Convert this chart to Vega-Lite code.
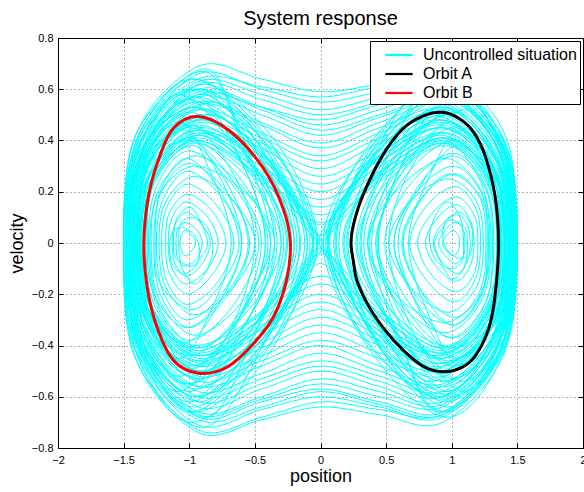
{
"$schema":"https://vega.github.io/schema/vega-lite/v6.json",
"width":525,"height":410,
"autosize":{"type":"none"},
"padding":{"left":58,"top":38,"right":1,"bottom":44},
"title":{"text":"System response","fontSize":20,"fontWeight":"normal","font":"Liberation Sans","color":"#000","offset":3},
"datasets":{
"u":[
{"g":1,"x":-1.5,"y":0},{"g":1,"x":-1.40,"y":0.40},{"g":1,"x":-0.98,"y":0.64},{"g":1,"x":-0.39,"y":0.40},{"g":1,"x":-0.08,"y":0},{"g":1,"x":-0.39,"y":-0.43},{"g":1,"x":-0.98,"y":-0.70},{"g":1,"x":-1.40,"y":-0.43},
{"g":2,"x":-1.48,"y":0},{"g":2,"x":-1.39,"y":0.37},{"g":2,"x":-0.99,"y":0.60},{"g":2,"x":-0.45,"y":0.37},{"g":2,"x":-0.16,"y":0},{"g":2,"x":-0.45,"y":-0.41},{"g":2,"x":-0.99,"y":-0.66},{"g":2,"x":-1.39,"y":-0.41},
{"g":3,"x":-1.47,"y":0},{"g":3,"x":-1.37,"y":0.35},{"g":3,"x":-0.94,"y":0.57},{"g":3,"x":-0.35,"y":0.35},{"g":3,"x":-0.03,"y":0},{"g":3,"x":-0.35,"y":-0.37},{"g":3,"x":-0.94,"y":-0.60},{"g":3,"x":-1.37,"y":-0.37},
{"g":4,"x":-1.45,"y":0},{"g":4,"x":-1.36,"y":0.35},{"g":4,"x":-1.0,"y":0.56},{"g":4,"x":-0.49,"y":0.35},{"g":4,"x":-0.22,"y":0},{"g":4,"x":-0.49,"y":-0.38},{"g":4,"x":-1.0,"y":-0.62},{"g":4,"x":-1.36,"y":-0.38},
{"g":5,"x":-1.44,"y":0},{"g":5,"x":-1.35,"y":0.33},{"g":5,"x":-0.95,"y":0.53},{"g":5,"x":-0.41,"y":0.33},{"g":5,"x":-0.12,"y":0},{"g":5,"x":-0.41,"y":-0.35},{"g":5,"x":-0.95,"y":-0.57},{"g":5,"x":-1.35,"y":-0.35},
{"g":6,"x":-1.42,"y":0},{"g":6,"x":-1.34,"y":0.32},{"g":6,"x":-1.0,"y":0.51},{"g":6,"x":-0.53,"y":0.32},{"g":6,"x":-0.28,"y":0},{"g":6,"x":-0.53,"y":-0.34},{"g":6,"x":-1.0,"y":-0.55},{"g":6,"x":-1.34,"y":-0.34},
{"g":7,"x":-1.41,"y":0},{"g":7,"x":-1.32,"y":0.30},{"g":7,"x":-0.91,"y":0.48},{"g":7,"x":-0.36,"y":0.30},{"g":7,"x":-0.06,"y":0},{"g":7,"x":-0.36,"y":-0.31},{"g":7,"x":-0.91,"y":-0.50},{"g":7,"x":-1.32,"y":-0.31},
{"g":8,"x":-1.39,"y":0},{"g":8,"x":-1.32,"y":0.29},{"g":8,"x":-1.0,"y":0.46},{"g":8,"x":-0.56,"y":0.29},{"g":8,"x":-0.33,"y":0},{"g":8,"x":-0.56,"y":-0.30},{"g":8,"x":-1.0,"y":-0.49},{"g":8,"x":-1.32,"y":-0.30},
{"g":9,"x":-1.37,"y":0},{"g":9,"x":-1.29,"y":0.27},{"g":9,"x":-0.94,"y":0.44},{"g":9,"x":-0.46,"y":0.27},{"g":9,"x":-0.20,"y":0},{"g":9,"x":-0.46,"y":-0.29},{"g":9,"x":-0.94,"y":-0.46},{"g":9,"x":-1.29,"y":-0.29},
{"g":10,"x":-1.35,"y":0},{"g":10,"x":-1.28,"y":0.25},{"g":10,"x":-1.0,"y":0.41},{"g":10,"x":-0.61,"y":0.25},{"g":10,"x":-0.40,"y":0},{"g":10,"x":-0.61,"y":-0.27},{"g":10,"x":-1.0,"y":-0.44},{"g":10,"x":-1.28,"y":-0.27},
{"g":11,"x":-1.33,"y":0},{"g":11,"x":-1.26,"y":0.24},{"g":11,"x":-0.95,"y":0.39},{"g":11,"x":-0.53,"y":0.24},{"g":11,"x":-0.30,"y":0},{"g":11,"x":-0.53,"y":-0.25},{"g":11,"x":-0.95,"y":-0.41},{"g":11,"x":-1.26,"y":-0.25},
{"g":12,"x":-1.31,"y":0},{"g":12,"x":-1.25,"y":0.22},{"g":12,"x":-1.0,"y":0.36},{"g":12,"x":-0.66,"y":0.22},{"g":12,"x":-0.47,"y":0},{"g":12,"x":-0.66,"y":-0.24},{"g":12,"x":-1.0,"y":-0.38},{"g":12,"x":-1.25,"y":-0.24},
{"g":13,"x":-1.29,"y":0},{"g":13,"x":-1.23,"y":0.21},{"g":13,"x":-0.95,"y":0.34},{"g":13,"x":-0.58,"y":0.21},{"g":13,"x":-0.38,"y":0},{"g":13,"x":-0.58,"y":-0.22},{"g":13,"x":-0.95,"y":-0.36},{"g":13,"x":-1.23,"y":-0.22},
{"g":14,"x":-1.27,"y":0},{"g":14,"x":-1.22,"y":0.19},{"g":14,"x":-1.0,"y":0.31},{"g":14,"x":-0.70,"y":0.19},{"g":14,"x":-0.54,"y":0},{"g":14,"x":-0.70,"y":-0.20},{"g":14,"x":-1.0,"y":-0.33},{"g":14,"x":-1.22,"y":-0.20},
{"g":15,"x":-1.25,"y":0},{"g":15,"x":-1.20,"y":0.17},{"g":15,"x":-1.01,"y":0.28},{"g":15,"x":-0.74,"y":0.17},{"g":15,"x":-0.60,"y":0},{"g":15,"x":-0.74,"y":-0.19},{"g":15,"x":-1.01,"y":-0.30},{"g":15,"x":-1.20,"y":-0.19},
{"g":16,"x":-1.23,"y":0},{"g":16,"x":-1.18,"y":0.16},{"g":16,"x":-0.96,"y":0.26},{"g":16,"x":-0.66,"y":0.16},{"g":16,"x":-0.50,"y":0},{"g":16,"x":-0.66,"y":-0.17},{"g":16,"x":-0.96,"y":-0.28},{"g":16,"x":-1.18,"y":-0.17},
{"g":17,"x":-1.21,"y":0},{"g":17,"x":-1.17,"y":0.14},{"g":17,"x":-1.01,"y":0.23},{"g":17,"x":-0.78,"y":0.14},{"g":17,"x":-0.66,"y":0},{"g":17,"x":-0.78,"y":-0.15},{"g":17,"x":-1.01,"y":-0.24},{"g":17,"x":-1.17,"y":-0.15},
{"g":18,"x":-1.18,"y":0},{"g":18,"x":-1.15,"y":0.12},{"g":18,"x":-1.01,"y":0.19},{"g":18,"x":-0.82,"y":0.12},{"g":18,"x":-0.72,"y":0},{"g":18,"x":-0.82,"y":-0.12},{"g":18,"x":-1.01,"y":-0.20},{"g":18,"x":-1.15,"y":-0.12},
{"g":19,"x":-1.16,"y":0},{"g":19,"x":-1.13,"y":0.10},{"g":19,"x":-1.02,"y":0.16},{"g":19,"x":-0.86,"y":0.10},{"g":19,"x":-0.78,"y":0},{"g":19,"x":-0.86,"y":-0.10},{"g":19,"x":-1.02,"y":-0.16},{"g":19,"x":-1.13,"y":-0.10},
{"g":20,"x":-1.13,"y":0},{"g":20,"x":-1.11,"y":0.07},{"g":20,"x":-1.02,"y":0.12},{"g":20,"x":-0.90,"y":0.07},{"g":20,"x":-0.84,"y":0},{"g":20,"x":-0.90,"y":-0.08},{"g":20,"x":-1.02,"y":-0.13},{"g":20,"x":-1.11,"y":-0.08},
{"g":21,"x":-1.10,"y":0},{"g":21,"x":-1.09,"y":0.05},{"g":21,"x":-1.03,"y":0.08},{"g":21,"x":-0.94,"y":0.05},{"g":21,"x":-0.90,"y":0},{"g":21,"x":-0.94,"y":-0.06},{"g":21,"x":-1.03,"y":-0.09},{"g":21,"x":-1.09,"y":-0.06},
{"g":22,"x":-1.07,"y":0},{"g":22,"x":-1.06,"y":0.03},{"g":22,"x":-1.03,"y":0.05},{"g":22,"x":-0.98,"y":0.03},{"g":22,"x":-0.95,"y":0},{"g":22,"x":-0.98,"y":-0.03},{"g":22,"x":-1.03,"y":-0.05},{"g":22,"x":-1.06,"y":-0.03},
{"g":23,"x":-1.46,"y":0},{"g":23,"x":-1.39,"y":0.36},{"g":23,"x":-1.08,"y":0.58},{"g":23,"x":-0.65,"y":0.36},{"g":23,"x":-0.42,"y":0},{"g":23,"x":-0.65,"y":-0.32},{"g":23,"x":-1.08,"y":-0.52},{"g":23,"x":-1.39,"y":-0.32},
{"g":24,"x":-1.43,"y":0},{"g":24,"x":-1.37,"y":0.31},{"g":24,"x":-1.09,"y":0.50},{"g":24,"x":-0.71,"y":0.31},{"g":24,"x":-0.50,"y":0},{"g":24,"x":-0.71,"y":-0.36},{"g":24,"x":-1.09,"y":-0.58},{"g":24,"x":-1.37,"y":-0.36},
{"g":101,"x":-1.49,"y":0},{"g":101,"x":-1.41,"y":0.42},{"g":101,"x":-0.90,"y":0.67},{"g":101,"x":-0.60,"y":0.42},{"g":101,"x":-0.35,"y":0},{"g":101,"x":-0.60,"y":-0.34},{"g":101,"x":-1.02,"y":-0.55},{"g":101,"x":-1.41,"y":-0.34},
{"g":102,"x":-1.46,"y":0},{"g":102,"x":-1.36,"y":0.31},{"g":102,"x":-0.85,"y":0.50},{"g":102,"x":-0.40,"y":0.31},{"g":102,"x":-0.10,"y":0},{"g":102,"x":-0.40,"y":-0.41},{"g":102,"x":-0.95,"y":-0.66},{"g":102,"x":-1.36,"y":-0.41},
{"g":103,"x":-1.40,"y":0},{"g":103,"x":-1.30,"y":0.38},{"g":103,"x":-0.88,"y":0.62},{"g":103,"x":-0.32,"y":0.38},{"g":103,"x":-0.02,"y":0},{"g":103,"x":-0.32,"y":-0.27},{"g":103,"x":-0.90,"y":-0.44},{"g":103,"x":-1.30,"y":-0.27},
{"g":104,"x":-1.50,"y":0},{"g":104,"x":-1.41,"y":0.28},{"g":104,"x":-1.0,"y":0.45},{"g":104,"x":-0.53,"y":0.28},{"g":104,"x":-0.25,"y":0},{"g":104,"x":-0.53,"y":-0.38},{"g":104,"x":-0.92,"y":-0.62},{"g":104,"x":-1.41,"y":-0.38},
{"g":105,"x":-1.38,"y":0},{"g":105,"x":-1.29,"y":0.34},{"g":105,"x":-0.82,"y":0.55},{"g":105,"x":-0.42,"y":0.34},{"g":105,"x":-0.15,"y":0},{"g":105,"x":-0.42,"y":-0.25},{"g":105,"x":-0.95,"y":-0.40},{"g":105,"x":-1.29,"y":-0.25},
{"g":106,"x":-1.48,"y":0},{"g":106,"x":-1.41,"y":0.25},{"g":106,"x":-1.02,"y":0.40},{"g":106,"x":-0.68,"y":0.25},{"g":106,"x":-0.45,"y":0},{"g":106,"x":-0.68,"y":-0.36},{"g":106,"x":-1.0,"y":-0.58},{"g":106,"x":-1.41,"y":-0.36},
{"g":107,"x":-1.44,"y":0},{"g":107,"x":-1.34,"y":0.37},{"g":107,"x":-0.92,"y":0.60},{"g":107,"x":-0.36,"y":0.37},{"g":107,"x":-0.05,"y":0},{"g":107,"x":-0.36,"y":-0.33},{"g":107,"x":-0.93,"y":-0.53},{"g":107,"x":-1.34,"y":-0.33},
{"g":108,"x":-1.36,"y":0},{"g":108,"x":-1.28,"y":0.30},{"g":108,"x":-0.88,"y":0.49},{"g":108,"x":-0.50,"y":0.30},{"g":108,"x":-0.26,"y":0},{"g":108,"x":-0.50,"y":-0.32},{"g":108,"x":-0.98,"y":-0.52},{"g":108,"x":-1.28,"y":-0.32},
{"g":109,"x":-1.42,"y":0},{"g":109,"x":-1.33,"y":0.40},{"g":109,"x":-0.95,"y":0.64},{"g":109,"x":-0.45,"y":0.40},{"g":109,"x":-0.18,"y":0},{"g":109,"x":-0.45,"y":-0.29},{"g":109,"x":-0.90,"y":-0.47},{"g":109,"x":-1.33,"y":-0.29},
{"g":110,"x":-1.49,"y":0},{"g":110,"x":-1.41,"y":0.33},{"g":110,"x":-0.97,"y":0.53},{"g":110,"x":-0.56,"y":0.33},{"g":110,"x":-0.30,"y":0},{"g":110,"x":-0.56,"y":-0.42},{"g":110,"x":-0.88,"y":-0.68},{"g":110,"x":-1.41,"y":-0.42},
{"g":111,"x":-1.32,"y":0},{"g":111,"x":-1.27,"y":0.24},{"g":111,"x":-0.98,"y":0.38},{"g":111,"x":-0.72,"y":0.24},{"g":111,"x":-0.55,"y":0},{"g":111,"x":-0.72,"y":-0.20},{"g":111,"x":-1.02,"y":-0.33},{"g":111,"x":-1.27,"y":-0.20},
{"g":112,"x":-1.30,"y":0},{"g":112,"x":-1.23,"y":0.19},{"g":112,"x":-0.95,"y":0.30},{"g":112,"x":-0.56,"y":0.19},{"g":112,"x":-0.35,"y":0},{"g":112,"x":-0.56,"y":-0.25},{"g":112,"x":-0.92,"y":-0.41},{"g":112,"x":-1.23,"y":-0.25},
{"g":113,"x":-1.26,"y":0},{"g":113,"x":-1.22,"y":0.20},{"g":113,"x":-1.02,"y":0.33},{"g":113,"x":-0.76,"y":0.20},{"g":113,"x":-0.62,"y":0},{"g":113,"x":-0.76,"y":-0.16},{"g":113,"x":-0.98,"y":-0.26},{"g":113,"x":-1.22,"y":-0.16},
{"g":114,"x":-1.40,"y":0},{"g":114,"x":-1.34,"y":0.27},{"g":114,"x":-1.05,"y":0.44},{"g":114,"x":-0.78,"y":0.27},{"g":114,"x":-0.60,"y":0},{"g":114,"x":-0.78,"y":-0.24},{"g":114,"x":-1.04,"y":-0.39},{"g":114,"x":-1.34,"y":-0.24},
{"g":115,"x":-1.12,"y":0},{"g":115,"x":-1.10,"y":0.09},{"g":115,"x":-1.0,"y":0.14},{"g":115,"x":-0.92,"y":0.09},{"g":115,"x":-0.86,"y":0},{"g":115,"x":-0.92,"y":-0.06},{"g":115,"x":-0.98,"y":-0.09},{"g":115,"x":-1.10,"y":-0.06},
{"g":116,"x":-1.08,"y":0.02},{"g":116,"x":-1.06,"y":0.08},{"g":116,"x":-0.97,"y":0.10},{"g":116,"x":-0.86,"y":0.06},{"g":116,"x":-0.82,"y":-0.02},{"g":116,"x":-0.86,"y":-0.10},{"g":116,"x":-0.96,"y":-0.16},{"g":116,"x":-1.06,"y":-0.09},
{"g":117,"x":-1.15,"y":-0.02},{"g":117,"x":-1.13,"y":0.04},{"g":117,"x":-1.05,"y":0.06},{"g":117,"x":-0.96,"y":0.03},{"g":117,"x":-0.92,"y":-0.03},{"g":117,"x":-0.95,"y":-0.09},{"g":117,"x":-1.05,"y":-0.12},{"g":117,"x":-1.13,"y":-0.08},
{"g":118,"x":-1.50,"y":0},{"g":118,"x":-1.41,"y":0.36},{"g":118,"x":-0.90,"y":0.58},{"g":118,"x":-0.49,"y":0.36},{"g":118,"x":-0.20,"y":0},{"g":118,"x":-0.49,"y":-0.45},{"g":118,"x":-0.90,"y":-0.72},{"g":118,"x":-1.41,"y":-0.45},
{"g":119,"x":-1.47,"y":0},{"g":119,"x":-1.39,"y":0.42},{"g":119,"x":-0.88,"y":0.68},{"g":119,"x":-0.62,"y":0.42},{"g":119,"x":-0.38,"y":0},{"g":119,"x":-0.62,"y":-0.37},{"g":119,"x":-0.96,"y":-0.60},{"g":119,"x":-1.39,"y":-0.37},
{"g":120,"x":-1.34,"y":0},{"g":120,"x":-1.25,"y":0.27},{"g":120,"x":-0.86,"y":0.43},{"g":120,"x":-0.37,"y":0.27},{"g":120,"x":-0.10,"y":0},{"g":120,"x":-0.37,"y":-0.31},{"g":120,"x":-0.92,"y":-0.50},{"g":120,"x":-1.25,"y":-0.31},
{"g":121,"x":-1.45,"y":0},{"g":121,"x":-1.40,"y":0.29},{"g":121,"x":-1.08,"y":0.47},{"g":121,"x":-0.85,"y":0.29},{"g":121,"x":-0.68,"y":0},{"g":121,"x":-0.85,"y":-0.28},{"g":121,"x":-1.08,"y":-0.45},{"g":121,"x":-1.40,"y":-0.28},
{"g":122,"x":-1.38,"y":0},{"g":122,"x":-1.31,"y":0.35},{"g":122,"x":-0.96,"y":0.57},{"g":122,"x":-0.63,"y":0.35},{"g":122,"x":-0.42,"y":0},{"g":122,"x":-0.63,"y":-0.30},{"g":122,"x":-0.98,"y":-0.48},{"g":122,"x":-1.31,"y":-0.30},
{"g":130,"x":-1.45,"y":0},{"g":130,"x":-1.36,"y":0.35},{"g":130,"x":-0.95,"y":0.55},{"g":130,"x":-0.45,"y":0.38},{"g":130,"x":-0.15,"y":0.13},{"g":130,"x":-0.02,"y":0},{"g":130,"x":-0.15,"y":-0.14},{"g":130,"x":-0.45,"y":-0.40},{"g":130,"x":-0.95,"y":-0.60},{"g":130,"x":-1.36,"y":-0.38},
{"g":131,"x":-1.48,"y":0},{"g":131,"x":-1.39,"y":0.38},{"g":131,"x":-0.97,"y":0.60},{"g":131,"x":-0.50,"y":0.44},{"g":131,"x":-0.18,"y":0.17},{"g":131,"x":-0.05,"y":0.01},{"g":131,"x":-0.17,"y":-0.15},{"g":131,"x":-0.48,"y":-0.42},{"g":131,"x":-0.97,"y":-0.64},{"g":131,"x":-1.39,"y":-0.40},
{"g":132,"x":-1.42,"y":0},{"g":132,"x":-1.33,"y":0.33},{"g":132,"x":-0.93,"y":0.52},{"g":132,"x":-0.42,"y":0.34},{"g":132,"x":-0.12,"y":0.10},{"g":132,"x":0.01,"y":-0.01},{"g":132,"x":-0.12,"y":-0.12},{"g":132,"x":-0.43,"y":-0.37},{"g":132,"x":-0.93,"y":-0.56},{"g":132,"x":-1.33,"y":-0.35},
{"g":133,"x":-1.40,"y":0},{"g":133,"x":-1.31,"y":0.31},{"g":133,"x":-0.92,"y":0.49},{"g":133,"x":-0.40,"y":0.31},{"g":133,"x":-0.14,"y":0.09},{"g":133,"x":-0.06,"y":0},{"g":133,"x":-0.14,"y":-0.10},{"g":133,"x":-0.40,"y":-0.33},{"g":133,"x":-0.92,"y":-0.53},{"g":133,"x":-1.31,"y":-0.33},
{"g":31,"x":1.5,"y":0},{"g":31,"x":1.40,"y":0.39},{"g":31,"x":0.97,"y":0.63},{"g":31,"x":0.38,"y":0.39},{"g":31,"x":0.06,"y":0},{"g":31,"x":0.38,"y":-0.42},{"g":31,"x":0.97,"y":-0.68},{"g":31,"x":1.40,"y":-0.42},
{"g":32,"x":1.48,"y":0},{"g":32,"x":1.39,"y":0.37},{"g":32,"x":0.98,"y":0.60},{"g":32,"x":0.44,"y":0.37},{"g":32,"x":0.14,"y":0},{"g":32,"x":0.44,"y":-0.40},{"g":32,"x":0.98,"y":-0.64},{"g":32,"x":1.39,"y":-0.40},
{"g":33,"x":1.47,"y":0},{"g":33,"x":1.37,"y":0.35},{"g":33,"x":0.93,"y":0.57},{"g":33,"x":0.34,"y":0.35},{"g":33,"x":0.02,"y":0},{"g":33,"x":0.34,"y":-0.38},{"g":33,"x":0.93,"y":-0.61},{"g":33,"x":1.37,"y":-0.38},
{"g":34,"x":1.46,"y":0},{"g":34,"x":1.38,"y":0.34},{"g":34,"x":1.01,"y":0.55},{"g":34,"x":0.51,"y":0.34},{"g":34,"x":0.24,"y":0},{"g":34,"x":0.51,"y":-0.37},{"g":34,"x":1.01,"y":-0.60},{"g":34,"x":1.38,"y":-0.37},
{"g":35,"x":1.44,"y":0},{"g":35,"x":1.35,"y":0.33},{"g":35,"x":0.94,"y":0.53},{"g":35,"x":0.40,"y":0.33},{"g":35,"x":0.10,"y":0},{"g":35,"x":0.40,"y":-0.35},{"g":35,"x":0.94,"y":-0.56},{"g":35,"x":1.35,"y":-0.35},
{"g":36,"x":1.43,"y":0},{"g":36,"x":1.35,"y":0.32},{"g":36,"x":1.01,"y":0.51},{"g":36,"x":0.55,"y":0.32},{"g":36,"x":0.30,"y":0},{"g":36,"x":0.55,"y":-0.33},{"g":36,"x":1.01,"y":-0.53},{"g":36,"x":1.35,"y":-0.33},
{"g":37,"x":1.41,"y":0},{"g":37,"x":1.32,"y":0.29},{"g":37,"x":0.91,"y":0.47},{"g":37,"x":0.35,"y":0.29},{"g":37,"x":0.05,"y":0},{"g":37,"x":0.35,"y":-0.31},{"g":37,"x":0.91,"y":-0.50},{"g":37,"x":1.32,"y":-0.31},
{"g":38,"x":1.40,"y":0},{"g":38,"x":1.33,"y":0.28},{"g":38,"x":1.02,"y":0.45},{"g":38,"x":0.59,"y":0.28},{"g":38,"x":0.36,"y":0},{"g":38,"x":0.59,"y":-0.30},{"g":38,"x":1.02,"y":-0.48},{"g":38,"x":1.33,"y":-0.30},
{"g":39,"x":1.38,"y":0},{"g":39,"x":1.30,"y":0.27},{"g":39,"x":0.94,"y":0.43},{"g":39,"x":0.44,"y":0.27},{"g":39,"x":0.18,"y":0},{"g":39,"x":0.44,"y":-0.28},{"g":39,"x":0.94,"y":-0.45},{"g":39,"x":1.30,"y":-0.28},
{"g":40,"x":1.36,"y":0},{"g":40,"x":1.29,"y":0.25},{"g":40,"x":1.01,"y":0.40},{"g":40,"x":0.63,"y":0.25},{"g":40,"x":0.42,"y":0},{"g":40,"x":0.63,"y":-0.27},{"g":40,"x":1.01,"y":-0.43},{"g":40,"x":1.29,"y":-0.27},
{"g":41,"x":1.34,"y":0},{"g":41,"x":1.27,"y":0.24},{"g":41,"x":0.95,"y":0.38},{"g":41,"x":0.51,"y":0.24},{"g":41,"x":0.28,"y":0},{"g":41,"x":0.51,"y":-0.25},{"g":41,"x":0.95,"y":-0.40},{"g":41,"x":1.27,"y":-0.25},
{"g":42,"x":1.32,"y":0},{"g":42,"x":1.26,"y":0.22},{"g":42,"x":1.01,"y":0.35},{"g":42,"x":0.67,"y":0.22},{"g":42,"x":0.49,"y":0},{"g":42,"x":0.67,"y":-0.23},{"g":42,"x":1.01,"y":-0.37},{"g":42,"x":1.26,"y":-0.23},
{"g":43,"x":1.30,"y":0},{"g":43,"x":1.23,"y":0.20},{"g":43,"x":0.95,"y":0.33},{"g":43,"x":0.57,"y":0.20},{"g":43,"x":0.36,"y":0},{"g":43,"x":0.57,"y":-0.22},{"g":43,"x":0.95,"y":-0.35},{"g":43,"x":1.23,"y":-0.22},
{"g":44,"x":1.28,"y":0},{"g":44,"x":1.23,"y":0.19},{"g":44,"x":1.01,"y":0.30},{"g":44,"x":0.72,"y":0.19},{"g":44,"x":0.56,"y":0},{"g":44,"x":0.72,"y":-0.20},{"g":44,"x":1.01,"y":-0.32},{"g":44,"x":1.23,"y":-0.20},
{"g":45,"x":1.26,"y":0},{"g":45,"x":1.22,"y":0.17},{"g":45,"x":1.02,"y":0.27},{"g":45,"x":0.76,"y":0.17},{"g":45,"x":0.62,"y":0},{"g":45,"x":0.76,"y":-0.18},{"g":45,"x":1.02,"y":-0.29},{"g":45,"x":1.22,"y":-0.18},
{"g":46,"x":1.24,"y":0},{"g":46,"x":1.19,"y":0.16},{"g":46,"x":0.97,"y":0.25},{"g":46,"x":0.68,"y":0.16},{"g":46,"x":0.52,"y":0},{"g":46,"x":0.68,"y":-0.17},{"g":46,"x":0.97,"y":-0.27},{"g":46,"x":1.19,"y":-0.17},
{"g":47,"x":1.22,"y":0},{"g":47,"x":1.18,"y":0.14},{"g":47,"x":1.02,"y":0.22},{"g":47,"x":0.80,"y":0.14},{"g":47,"x":0.68,"y":0},{"g":47,"x":0.80,"y":-0.14},{"g":47,"x":1.02,"y":-0.23},{"g":47,"x":1.18,"y":-0.14},
{"g":48,"x":1.20,"y":0},{"g":48,"x":1.17,"y":0.11},{"g":48,"x":1.03,"y":0.18},{"g":48,"x":0.84,"y":0.11},{"g":48,"x":0.74,"y":0},{"g":48,"x":0.84,"y":-0.12},{"g":48,"x":1.03,"y":-0.19},{"g":48,"x":1.17,"y":-0.12},
{"g":49,"x":1.17,"y":0},{"g":49,"x":1.14,"y":0.09},{"g":49,"x":1.03,"y":0.15},{"g":49,"x":0.88,"y":0.09},{"g":49,"x":0.80,"y":0},{"g":49,"x":0.88,"y":-0.09},{"g":49,"x":1.03,"y":-0.15},{"g":49,"x":1.14,"y":-0.09},
{"g":50,"x":1.14,"y":0},{"g":50,"x":1.12,"y":0.07},{"g":50,"x":1.04,"y":0.11},{"g":50,"x":0.92,"y":0.07},{"g":50,"x":0.86,"y":0},{"g":50,"x":0.92,"y":-0.07},{"g":50,"x":1.04,"y":-0.12},{"g":50,"x":1.12,"y":-0.07},
{"g":51,"x":1.10,"y":0},{"g":51,"x":1.09,"y":0.05},{"g":51,"x":1.03,"y":0.08},{"g":51,"x":0.95,"y":0.05},{"g":51,"x":0.90,"y":0},{"g":51,"x":0.95,"y":-0.05},{"g":51,"x":1.03,"y":-0.08},{"g":51,"x":1.09,"y":-0.05},
{"g":52,"x":1.06,"y":0},{"g":52,"x":1.05,"y":0.03},{"g":52,"x":1.01,"y":0.05},{"g":52,"x":0.96,"y":0.03},{"g":52,"x":0.93,"y":0},{"g":52,"x":0.96,"y":-0.03},{"g":52,"x":1.01,"y":-0.05},{"g":52,"x":1.05,"y":-0.03},
{"g":53,"x":1.47,"y":0},{"g":53,"x":1.40,"y":0.35},{"g":53,"x":1.09,"y":0.56},{"g":53,"x":0.67,"y":0.35},{"g":53,"x":0.44,"y":0},{"g":53,"x":0.67,"y":-0.33},{"g":53,"x":1.09,"y":-0.54},{"g":53,"x":1.40,"y":-0.33},
{"g":54,"x":1.44,"y":0},{"g":54,"x":1.38,"y":0.32},{"g":54,"x":1.10,"y":0.52},{"g":54,"x":0.72,"y":0.32},{"g":54,"x":0.52,"y":0},{"g":54,"x":0.72,"y":-0.36},{"g":54,"x":1.10,"y":-0.58},{"g":54,"x":1.38,"y":-0.36},
{"g":201,"x":1.48,"y":0},{"g":201,"x":1.40,"y":-0.41},{"g":201,"x":0.92,"y":-0.66},{"g":201,"x":0.62,"y":-0.41},{"g":201,"x":0.33,"y":0},{"g":201,"x":0.62,"y":0.35},{"g":201,"x":1.00,"y":0.56},{"g":201,"x":1.40,"y":0.35},
{"g":202,"x":1.45,"y":0},{"g":202,"x":1.35,"y":-0.30},{"g":202,"x":0.87,"y":-0.49},{"g":202,"x":0.42,"y":-0.30},{"g":202,"x":0.12,"y":0},{"g":202,"x":0.42,"y":0.40},{"g":202,"x":0.96,"y":0.64},{"g":202,"x":1.35,"y":0.40},
{"g":203,"x":1.41,"y":0},{"g":203,"x":1.31,"y":-0.37},{"g":203,"x":0.90,"y":-0.60},{"g":203,"x":0.34,"y":-0.37},{"g":203,"x":0.04,"y":0},{"g":203,"x":0.34,"y":0.28},{"g":203,"x":0.91,"y":0.45},{"g":203,"x":1.31,"y":0.28},
{"g":204,"x":1.49,"y":0},{"g":204,"x":1.40,"y":-0.29},{"g":204,"x":0.98,"y":-0.46},{"g":204,"x":0.51,"y":-0.29},{"g":204,"x":0.23,"y":0},{"g":204,"x":0.51,"y":0.37},{"g":204,"x":0.93,"y":0.60},{"g":204,"x":1.40,"y":0.37},
{"g":205,"x":1.37,"y":0},{"g":205,"x":1.28,"y":-0.33},{"g":205,"x":0.84,"y":-0.54},{"g":205,"x":0.44,"y":-0.33},{"g":205,"x":0.17,"y":0},{"g":205,"x":0.44,"y":0.26},{"g":205,"x":0.96,"y":0.41},{"g":205,"x":1.28,"y":0.26},
{"g":206,"x":1.47,"y":0},{"g":206,"x":1.40,"y":-0.26},{"g":206,"x":1.00,"y":-0.41},{"g":206,"x":0.66,"y":-0.26},{"g":206,"x":0.44,"y":0},{"g":206,"x":0.66,"y":0.35},{"g":206,"x":0.99,"y":0.57},{"g":206,"x":1.40,"y":0.35},
{"g":207,"x":1.45,"y":0},{"g":207,"x":1.35,"y":-0.36},{"g":207,"x":0.93,"y":-0.59},{"g":207,"x":0.37,"y":-0.36},{"g":207,"x":0.07,"y":0},{"g":207,"x":0.37,"y":0.32},{"g":207,"x":0.94,"y":0.52},{"g":207,"x":1.35,"y":0.32},
{"g":208,"x":1.37,"y":0},{"g":208,"x":1.29,"y":-0.31},{"g":208,"x":0.90,"y":-0.50},{"g":208,"x":0.52,"y":-0.31},{"g":208,"x":0.27,"y":0},{"g":208,"x":0.52,"y":0.31},{"g":208,"x":0.97,"y":0.50},{"g":208,"x":1.29,"y":0.31},
{"g":209,"x":1.43,"y":0},{"g":209,"x":1.34,"y":-0.41},{"g":209,"x":0.96,"y":-0.66},{"g":209,"x":0.46,"y":-0.41},{"g":209,"x":0.20,"y":0},{"g":209,"x":0.46,"y":0.30},{"g":209,"x":0.91,"y":0.48},{"g":209,"x":1.34,"y":0.30},
{"g":210,"x":1.48,"y":0},{"g":210,"x":1.40,"y":-0.34},{"g":210,"x":0.96,"y":-0.54},{"g":210,"x":0.57,"y":-0.34},{"g":210,"x":0.31,"y":0},{"g":210,"x":0.57,"y":0.40},{"g":210,"x":0.89,"y":0.64},{"g":210,"x":1.40,"y":0.40},
{"g":211,"x":1.31,"y":0},{"g":211,"x":1.26,"y":-0.23},{"g":211,"x":0.99,"y":-0.37},{"g":211,"x":0.73,"y":-0.23},{"g":211,"x":0.56,"y":0},{"g":211,"x":0.73,"y":0.21},{"g":211,"x":1.01,"y":0.34},{"g":211,"x":1.26,"y":0.21},
{"g":212,"x":1.29,"y":0},{"g":212,"x":1.22,"y":-0.20},{"g":212,"x":0.94,"y":-0.31},{"g":212,"x":0.57,"y":-0.20},{"g":212,"x":0.37,"y":0},{"g":212,"x":0.57,"y":0.24},{"g":212,"x":0.93,"y":0.40},{"g":212,"x":1.22,"y":0.24},
{"g":213,"x":1.27,"y":0},{"g":213,"x":1.23,"y":-0.19},{"g":213,"x":1.01,"y":-0.32},{"g":213,"x":0.77,"y":-0.19},{"g":213,"x":0.63,"y":0},{"g":213,"x":0.77,"y":0.17},{"g":213,"x":0.99,"y":0.27},{"g":213,"x":1.23,"y":0.17},
{"g":214,"x":1.41,"y":0},{"g":214,"x":1.35,"y":-0.28},{"g":214,"x":1.04,"y":-0.45},{"g":214,"x":0.77,"y":-0.28},{"g":214,"x":0.59,"y":0},{"g":214,"x":0.77,"y":0.23},{"g":214,"x":1.05,"y":0.38},{"g":214,"x":1.35,"y":0.23},
{"g":215,"x":1.12,"y":0},{"g":215,"x":1.10,"y":-0.09},{"g":215,"x":1.01,"y":-0.14},{"g":215,"x":0.93,"y":-0.09},{"g":215,"x":0.87,"y":0},{"g":215,"x":0.93,"y":0.06},{"g":215,"x":0.99,"y":0.09},{"g":215,"x":1.10,"y":0.06},
{"g":216,"x":1.09,"y":-0.02},{"g":216,"x":1.07,"y":-0.08},{"g":216,"x":0.98,"y":-0.10},{"g":216,"x":0.87,"y":-0.06},{"g":216,"x":0.83,"y":0.02},{"g":216,"x":0.87,"y":0.10},{"g":216,"x":0.97,"y":0.16},{"g":216,"x":1.07,"y":0.09},
{"g":217,"x":1.16,"y":0.02},{"g":217,"x":1.14,"y":-0.04},{"g":217,"x":1.06,"y":-0.06},{"g":217,"x":0.97,"y":-0.03},{"g":217,"x":0.93,"y":0.03},{"g":217,"x":0.96,"y":0.09},{"g":217,"x":1.06,"y":0.12},{"g":217,"x":1.14,"y":0.08},
{"g":218,"x":1.49,"y":0},{"g":218,"x":1.40,"y":-0.37},{"g":218,"x":0.92,"y":-0.60},{"g":218,"x":0.50,"y":-0.37},{"g":218,"x":0.21,"y":0},{"g":218,"x":0.50,"y":0.43},{"g":218,"x":0.91,"y":0.66},{"g":218,"x":1.40,"y":0.43},
{"g":219,"x":1.46,"y":0},{"g":219,"x":1.38,"y":-0.41},{"g":219,"x":0.90,"y":-0.66},{"g":219,"x":0.63,"y":-0.41},{"g":219,"x":0.39,"y":0},{"g":219,"x":0.63,"y":0.36},{"g":219,"x":0.97,"y":0.58},{"g":219,"x":1.38,"y":0.36},
{"g":220,"x":1.35,"y":0},{"g":220,"x":1.26,"y":-0.28},{"g":220,"x":0.87,"y":-0.44},{"g":220,"x":0.38,"y":-0.28},{"g":220,"x":0.11,"y":0},{"g":220,"x":0.38,"y":0.30},{"g":220,"x":0.93,"y":0.48},{"g":220,"x":1.26,"y":0.30},
{"g":221,"x":1.44,"y":0},{"g":221,"x":1.39,"y":-0.30},{"g":221,"x":1.07,"y":-0.48},{"g":221,"x":0.84,"y":-0.30},{"g":221,"x":0.67,"y":0},{"g":221,"x":0.84,"y":0.27},{"g":221,"x":1.07,"y":0.44},{"g":221,"x":1.39,"y":0.27},
{"g":222,"x":1.39,"y":0},{"g":222,"x":1.32,"y":-0.36},{"g":222,"x":0.97,"y":-0.58},{"g":222,"x":0.64,"y":-0.36},{"g":222,"x":0.43,"y":0},{"g":222,"x":0.64,"y":0.29},{"g":222,"x":0.99,"y":0.47},{"g":222,"x":1.32,"y":0.29},
{"g":230,"x":1.45,"y":0},{"g":230,"x":1.36,"y":-0.36},{"g":230,"x":0.95,"y":-0.58},{"g":230,"x":0.45,"y":-0.39},{"g":230,"x":0.15,"y":-0.13},{"g":230,"x":0.02,"y":0},{"g":230,"x":0.15,"y":0.14},{"g":230,"x":0.45,"y":0.39},{"g":230,"x":0.95,"y":0.56},{"g":230,"x":1.36,"y":0.36},
{"g":231,"x":1.48,"y":0},{"g":231,"x":1.39,"y":-0.39},{"g":231,"x":0.97,"y":-0.62},{"g":231,"x":0.50,"y":-0.43},{"g":231,"x":0.18,"y":-0.16},{"g":231,"x":0.05,"y":-0.01},{"g":231,"x":0.17,"y":0.15},{"g":231,"x":0.48,"y":0.42},{"g":231,"x":0.97,"y":0.61},{"g":231,"x":1.39,"y":0.38},
{"g":232,"x":1.42,"y":0},{"g":232,"x":1.33,"y":-0.34},{"g":232,"x":0.93,"y":-0.54},{"g":232,"x":0.42,"y":-0.35},{"g":232,"x":0.12,"y":-0.11},{"g":232,"x":-0.01,"y":0.01},{"g":232,"x":0.12,"y":0.12},{"g":232,"x":0.43,"y":0.36},{"g":232,"x":0.93,"y":0.53},{"g":232,"x":1.33,"y":0.33},
{"g":233,"x":1.40,"y":0},{"g":233,"x":1.31,"y":-0.32},{"g":233,"x":0.92,"y":-0.51},{"g":233,"x":0.40,"y":-0.32},{"g":233,"x":0.14,"y":-0.10},{"g":233,"x":0.06,"y":0},{"g":233,"x":0.14,"y":0.10},{"g":233,"x":0.40,"y":0.32},{"g":233,"x":0.92,"y":0.50},{"g":233,"x":1.31,"y":0.31},
{"g":61,"x":-1.50,"y":0},{"g":61,"x":-1.40,"y":0.43},{"g":61,"x":-0.93,"y":0.69},{"g":61,"x":-0.45,"y":0.64},{"g":61,"x":0,"y":0.59},{"g":61,"x":0.45,"y":0.62},{"g":61,"x":0.93,"y":0.65},{"g":61,"x":1.40,"y":0.40},{"g":61,"x":1.50,"y":0},{"g":61,"x":1.40,"y":-0.43},{"g":61,"x":0.93,"y":-0.70},{"g":61,"x":0.45,"y":-0.67},{"g":61,"x":0,"y":-0.64},{"g":61,"x":-0.45,"y":-0.69},{"g":61,"x":-0.93,"y":-0.74},{"g":61,"x":-1.40,"y":-0.46},
{"g":62,"x":-1.48,"y":0},{"g":62,"x":-1.38,"y":0.41},{"g":62,"x":-0.93,"y":0.66},{"g":62,"x":-0.45,"y":0.60},{"g":62,"x":0,"y":0.55},{"g":62,"x":0.45,"y":0.59},{"g":62,"x":0.93,"y":0.63},{"g":62,"x":1.39,"y":0.39},{"g":62,"x":1.49,"y":0},{"g":62,"x":1.39,"y":-0.42},{"g":62,"x":0.93,"y":-0.68},{"g":62,"x":0.45,"y":-0.64},{"g":62,"x":0,"y":-0.60},{"g":62,"x":-0.45,"y":-0.65},{"g":62,"x":-0.93,"y":-0.71},{"g":62,"x":-1.38,"y":-0.44},
{"g":63,"x":-1.47,"y":0},{"g":63,"x":-1.37,"y":0.38},{"g":63,"x":-0.93,"y":0.62},{"g":63,"x":-0.45,"y":0.56},{"g":63,"x":0,"y":0.50},{"g":63,"x":0.45,"y":0.55},{"g":63,"x":0.93,"y":0.60},{"g":63,"x":1.37,"y":0.37},{"g":63,"x":1.47,"y":0},{"g":63,"x":1.37,"y":-0.41},{"g":63,"x":0.93,"y":-0.66},{"g":63,"x":0.45,"y":-0.62},{"g":63,"x":0,"y":-0.57},{"g":63,"x":-0.45,"y":-0.62},{"g":63,"x":-0.93,"y":-0.68},{"g":63,"x":-1.37,"y":-0.42},
{"g":64,"x":-1.46,"y":0},{"g":64,"x":-1.36,"y":0.37},{"g":64,"x":-0.93,"y":0.60},{"g":64,"x":-0.45,"y":0.53},{"g":64,"x":0,"y":0.46},{"g":64,"x":0.45,"y":0.52},{"g":64,"x":0.93,"y":0.58},{"g":64,"x":1.36,"y":0.36},{"g":64,"x":1.46,"y":0},{"g":64,"x":1.36,"y":-0.39},{"g":64,"x":0.93,"y":-0.63},{"g":64,"x":0.45,"y":-0.58},{"g":64,"x":0,"y":-0.53},{"g":64,"x":-0.45,"y":-0.60},{"g":64,"x":-0.93,"y":-0.66},{"g":64,"x":-1.36,"y":-0.41},
{"g":65,"x":-1.45,"y":0},{"g":65,"x":-1.35,"y":0.35},{"g":65,"x":-0.93,"y":0.57},{"g":65,"x":-0.45,"y":0.50},{"g":65,"x":0,"y":0.42},{"g":65,"x":0.45,"y":0.49},{"g":65,"x":0.93,"y":0.55},{"g":65,"x":1.35,"y":0.34},{"g":65,"x":1.45,"y":0},{"g":65,"x":1.35,"y":-0.37},{"g":65,"x":0.93,"y":-0.60},{"g":65,"x":0.45,"y":-0.54},{"g":65,"x":0,"y":-0.48},{"g":65,"x":-0.45,"y":-0.55},{"g":65,"x":-0.93,"y":-0.62},{"g":65,"x":-1.35,"y":-0.38},
{"g":66,"x":-1.44,"y":0},{"g":66,"x":-1.34,"y":0.33},{"g":66,"x":-0.93,"y":0.54},{"g":66,"x":-0.45,"y":0.46},{"g":66,"x":0,"y":0.37},{"g":66,"x":0.45,"y":0.45},{"g":66,"x":0.93,"y":0.52},{"g":66,"x":1.34,"y":0.32},{"g":66,"x":1.44,"y":0},{"g":66,"x":1.34,"y":-0.35},{"g":66,"x":0.93,"y":-0.56},{"g":66,"x":0.45,"y":-0.50},{"g":66,"x":0,"y":-0.43},{"g":66,"x":-0.45,"y":-0.51},{"g":66,"x":-0.93,"y":-0.58},{"g":66,"x":-1.34,"y":-0.36},
{"g":67,"x":-1.43,"y":0},{"g":67,"x":-1.33,"y":0.31},{"g":67,"x":-0.93,"y":0.50},{"g":67,"x":-0.45,"y":0.41},{"g":67,"x":0,"y":0.32},{"g":67,"x":0.45,"y":0.41},{"g":67,"x":0.93,"y":0.49},{"g":67,"x":1.32,"y":0.30},{"g":67,"x":1.42,"y":0},{"g":67,"x":1.32,"y":-0.32},{"g":67,"x":0.93,"y":-0.52},{"g":67,"x":0.45,"y":-0.45},{"g":67,"x":0,"y":-0.38},{"g":67,"x":-0.45,"y":-0.46},{"g":67,"x":-0.93,"y":-0.54},{"g":67,"x":-1.33,"y":-0.33},
{"g":68,"x":-1.41,"y":0},{"g":68,"x":-1.31,"y":0.29},{"g":68,"x":-0.93,"y":0.47},{"g":68,"x":-0.45,"y":0.37},{"g":68,"x":0,"y":0.26},{"g":68,"x":0.45,"y":0.36},{"g":68,"x":0.93,"y":0.46},{"g":68,"x":1.31,"y":0.29},{"g":68,"x":1.41,"y":0},{"g":68,"x":1.31,"y":-0.30},{"g":68,"x":0.93,"y":-0.48},{"g":68,"x":0.45,"y":-0.40},{"g":68,"x":0,"y":-0.32},{"g":68,"x":-0.45,"y":-0.41},{"g":68,"x":-0.93,"y":-0.50},{"g":68,"x":-1.31,"y":-0.31},
{"g":69,"x":-1.40,"y":0},{"g":69,"x":-1.30,"y":0.27},{"g":69,"x":-0.93,"y":0.44},{"g":69,"x":-0.45,"y":0.32},{"g":69,"x":0,"y":0.20},{"g":69,"x":0.45,"y":0.32},{"g":69,"x":0.93,"y":0.43},{"g":69,"x":1.30,"y":0.27},{"g":69,"x":1.40,"y":0},{"g":69,"x":1.30,"y":-0.28},{"g":69,"x":0.93,"y":-0.45},{"g":69,"x":0.45,"y":-0.36},{"g":69,"x":0,"y":-0.26},{"g":69,"x":-0.45,"y":-0.36},{"g":69,"x":-0.93,"y":-0.46},{"g":69,"x":-1.30,"y":-0.29},
{"g":70,"x":-1.38,"y":0},{"g":70,"x":-1.28,"y":0.26},{"g":70,"x":-0.93,"y":0.42},{"g":70,"x":-0.45,"y":0.28},{"g":70,"x":0,"y":0.14},{"g":70,"x":0.45,"y":0.28},{"g":70,"x":0.93,"y":0.41},{"g":70,"x":1.28,"y":0.25},{"g":70,"x":1.38,"y":0},{"g":70,"x":1.28,"y":-0.27},{"g":70,"x":0.93,"y":-0.43},{"g":70,"x":0.45,"y":-0.32},{"g":70,"x":0,"y":-0.20},{"g":70,"x":-0.45,"y":-0.32},{"g":70,"x":-0.93,"y":-0.44},{"g":70,"x":-1.28,"y":-0.27},
{"g":71,"x":-1.37,"y":0},{"g":71,"x":-1.27,"y":0.25},{"g":71,"x":-0.93,"y":0.40},{"g":71,"x":-0.45,"y":0.24},{"g":71,"x":0,"y":0.08},{"g":71,"x":0.45,"y":0.24},{"g":71,"x":0.93,"y":0.39},{"g":71,"x":1.26,"y":0.24},{"g":71,"x":1.36,"y":0},{"g":71,"x":1.26,"y":-0.25},{"g":71,"x":0.93,"y":-0.41},{"g":71,"x":0.45,"y":-0.27},{"g":71,"x":0,"y":-0.13},{"g":71,"x":-0.45,"y":-0.28},{"g":71,"x":-0.93,"y":-0.42},{"g":71,"x":-1.27,"y":-0.26},
{"g":301,"x":-1.49,"y":0},{"g":301,"x":-1.39,"y":0.40},{"g":301,"x":-0.93,"y":0.64},{"g":301,"x":-0.45,"y":0.61},{"g":301,"x":0,"y":0.57},{"g":301,"x":0.45,"y":0.61},{"g":301,"x":0.93,"y":0.64},{"g":301,"x":1.37,"y":0.40},{"g":301,"x":1.47,"y":0},{"g":301,"x":1.37,"y":-0.42},{"g":301,"x":0.93,"y":-0.67},{"g":301,"x":0.45,"y":-0.65},{"g":301,"x":0,"y":-0.62},{"g":301,"x":-0.45,"y":-0.68},{"g":301,"x":-0.93,"y":-0.73},{"g":301,"x":-1.39,"y":-0.45},
{"g":302,"x":-1.47,"y":0},{"g":302,"x":-1.37,"y":0.39},{"g":302,"x":-0.93,"y":0.63},{"g":302,"x":-0.45,"y":0.58},{"g":302,"x":0,"y":0.52},{"g":302,"x":0.45,"y":0.57},{"g":302,"x":0.93,"y":0.62},{"g":302,"x":1.38,"y":0.38},{"g":302,"x":1.48,"y":0},{"g":302,"x":1.38,"y":-0.42},{"g":302,"x":0.93,"y":-0.67},{"g":302,"x":0.45,"y":-0.63},{"g":302,"x":0,"y":-0.58},{"g":302,"x":-0.45,"y":-0.64},{"g":302,"x":-0.93,"y":-0.69},{"g":302,"x":-1.37,"y":-0.43},
{"g":303,"x":-1.46,"y":0},{"g":303,"x":-1.36,"y":0.36},{"g":303,"x":-0.93,"y":0.58},{"g":303,"x":-0.45,"y":0.53},{"g":303,"x":0,"y":0.48},{"g":303,"x":0.45,"y":0.54},{"g":303,"x":0.93,"y":0.59},{"g":303,"x":1.35,"y":0.37},{"g":303,"x":1.45,"y":0},{"g":303,"x":1.35,"y":-0.40},{"g":303,"x":0.93,"y":-0.64},{"g":303,"x":0.45,"y":-0.60},{"g":303,"x":0,"y":-0.55},{"g":303,"x":-0.45,"y":-0.61},{"g":303,"x":-0.93,"y":-0.67},{"g":303,"x":-1.36,"y":-0.42},
{"g":304,"x":-1.45,"y":0},{"g":304,"x":-1.35,"y":0.37},{"g":304,"x":-0.93,"y":0.59},{"g":304,"x":-0.45,"y":0.52},{"g":304,"x":0,"y":0.44},{"g":304,"x":0.45,"y":0.50},{"g":304,"x":0.93,"y":0.56},{"g":304,"x":1.36,"y":0.35},{"g":304,"x":1.46,"y":0},{"g":304,"x":1.36,"y":-0.38},{"g":304,"x":0.93,"y":-0.62},{"g":304,"x":0.45,"y":-0.56},{"g":304,"x":0,"y":-0.50},{"g":304,"x":-0.45,"y":-0.57},{"g":304,"x":-0.93,"y":-0.64},{"g":304,"x":-1.35,"y":-0.40},
{"g":305,"x":-1.44,"y":0},{"g":305,"x":-1.34,"y":0.34},{"g":305,"x":-0.93,"y":0.55},{"g":305,"x":-0.45,"y":0.47},{"g":305,"x":0,"y":0.39},{"g":305,"x":0.45,"y":0.47},{"g":305,"x":0.93,"y":0.54},{"g":305,"x":1.33,"y":0.33},{"g":305,"x":1.43,"y":0},{"g":305,"x":1.33,"y":-0.36},{"g":305,"x":0.93,"y":-0.58},{"g":305,"x":0.45,"y":-0.52},{"g":305,"x":0,"y":-0.46},{"g":305,"x":-0.45,"y":-0.53},{"g":305,"x":-0.93,"y":-0.60},{"g":305,"x":-1.34,"y":-0.37},
{"g":306,"x":-1.43,"y":0},{"g":306,"x":-1.33,"y":0.32},{"g":306,"x":-0.93,"y":0.52},{"g":306,"x":-0.45,"y":0.43},{"g":306,"x":0,"y":0.34},{"g":306,"x":0.45,"y":0.43},{"g":306,"x":0.93,"y":0.51},{"g":306,"x":1.34,"y":0.32},{"g":306,"x":1.44,"y":0},{"g":306,"x":1.34,"y":-0.34},{"g":306,"x":0.93,"y":-0.55},{"g":306,"x":0.45,"y":-0.48},{"g":306,"x":0,"y":-0.40},{"g":306,"x":-0.45,"y":-0.48},{"g":306,"x":-0.93,"y":-0.56},{"g":306,"x":-1.33,"y":-0.35},
{"g":307,"x":-1.42,"y":0},{"g":307,"x":-1.32,"y":0.30},{"g":307,"x":-0.93,"y":0.48},{"g":307,"x":-0.45,"y":0.39},{"g":307,"x":0,"y":0.29},{"g":307,"x":0.45,"y":0.39},{"g":307,"x":0.93,"y":0.48},{"g":307,"x":1.31,"y":0.30},{"g":307,"x":1.41,"y":0},{"g":307,"x":1.31,"y":-0.31},{"g":307,"x":0.93,"y":-0.50},{"g":307,"x":0.45,"y":-0.43},{"g":307,"x":0,"y":-0.35},{"g":307,"x":-0.45,"y":-0.44},{"g":307,"x":-0.93,"y":-0.52},{"g":307,"x":-1.32,"y":-0.32},
{"g":308,"x":-1.40,"y":0},{"g":308,"x":-1.30,"y":0.28},{"g":308,"x":-0.93,"y":0.45},{"g":308,"x":-0.45,"y":0.34},{"g":308,"x":0,"y":0.23},{"g":308,"x":0.45,"y":0.34},{"g":308,"x":0.93,"y":0.45},{"g":308,"x":1.31,"y":0.28},{"g":308,"x":1.41,"y":0},{"g":308,"x":1.31,"y":-0.29},{"g":308,"x":0.93,"y":-0.47},{"g":308,"x":0.45,"y":-0.38},{"g":308,"x":0,"y":-0.29},{"g":308,"x":-0.45,"y":-0.39},{"g":308,"x":-0.93,"y":-0.48},{"g":308,"x":-1.30,"y":-0.30},
{"g":309,"x":-1.39,"y":0},{"g":309,"x":-1.29,"y":0.27},{"g":309,"x":-0.93,"y":0.43},{"g":309,"x":-0.45,"y":0.30},{"g":309,"x":0,"y":0.17},{"g":309,"x":0.45,"y":0.30},{"g":309,"x":0.93,"y":0.42},{"g":309,"x":1.28,"y":0.26},{"g":309,"x":1.38,"y":0},{"g":309,"x":1.28,"y":-0.27},{"g":309,"x":0.93,"y":-0.44},{"g":309,"x":0.45,"y":-0.34},{"g":309,"x":0,"y":-0.23},{"g":309,"x":-0.45,"y":-0.34},{"g":309,"x":-0.93,"y":-0.45},{"g":309,"x":-1.29,"y":-0.28},
{"g":310,"x":-1.37,"y":0},{"g":310,"x":-1.27,"y":0.25},{"g":310,"x":-0.93,"y":0.41},{"g":310,"x":-0.45,"y":0.26},{"g":310,"x":0,"y":0.11},{"g":310,"x":0.45,"y":0.26},{"g":310,"x":0.93,"y":0.40},{"g":310,"x":1.27,"y":0.25},{"g":310,"x":1.37,"y":0},{"g":310,"x":1.27,"y":-0.26},{"g":310,"x":0.93,"y":-0.42},{"g":310,"x":0.45,"y":-0.29},{"g":310,"x":0,"y":-0.16},{"g":310,"x":-0.45,"y":-0.30},{"g":310,"x":-0.93,"y":-0.43},{"g":310,"x":-1.27,"y":-0.27},
{"g":320,"x":-1.40,"y":0},{"g":320,"x":-1.30,"y":0.27},{"g":320,"x":-0.93,"y":0.42},{"g":320,"x":-0.45,"y":0.27},{"g":320,"x":-0.15,"y":0.10},{"g":320,"x":0,"y":0.03},{"g":320,"x":0.15,"y":0.10},{"g":320,"x":0.45,"y":0.27},{"g":320,"x":0.93,"y":0.41},{"g":320,"x":1.30,"y":0.26},{"g":320,"x":1.40,"y":0},{"g":320,"x":1.30,"y":-0.27},{"g":320,"x":0.93,"y":-0.43},{"g":320,"x":0.45,"y":-0.28},{"g":320,"x":0.15,"y":-0.11},{"g":320,"x":0,"y":-0.04},{"g":320,"x":-0.15,"y":-0.11},{"g":320,"x":-0.45,"y":-0.29},{"g":320,"x":-0.93,"y":-0.44},{"g":320,"x":-1.30,"y":-0.28},
{"g":321,"x":-1.43,"y":0},{"g":321,"x":-1.33,"y":0.30},{"g":321,"x":-0.93,"y":0.46},{"g":321,"x":-0.45,"y":0.31},{"g":321,"x":-0.15,"y":0.14},{"g":321,"x":0,"y":0.07},{"g":321,"x":0.15,"y":0.14},{"g":321,"x":0.45,"y":0.31},{"g":321,"x":0.93,"y":0.45},{"g":321,"x":1.33,"y":0.29},{"g":321,"x":1.43,"y":0},{"g":321,"x":1.33,"y":-0.30},{"g":321,"x":0.93,"y":-0.47},{"g":321,"x":0.45,"y":-0.33},{"g":321,"x":0.15,"y":-0.15},{"g":321,"x":0,"y":-0.08},{"g":321,"x":-0.15,"y":-0.15},{"g":321,"x":-0.45,"y":-0.33},{"g":321,"x":-0.93,"y":-0.48},{"g":321,"x":-1.33,"y":-0.31},
{"g":322,"x":-1.38,"y":0},{"g":322,"x":-1.28,"y":0.26},{"g":322,"x":-0.93,"y":0.40},{"g":322,"x":-0.45,"y":0.25},{"g":322,"x":-0.15,"y":0.08},{"g":322,"x":0,"y":0.01},{"g":322,"x":0.15,"y":0.08},{"g":322,"x":0.45,"y":0.25},{"g":322,"x":0.93,"y":0.39},{"g":322,"x":1.28,"y":0.25},{"g":322,"x":1.38,"y":0},{"g":322,"x":1.28,"y":-0.26},{"g":322,"x":0.93,"y":-0.41},{"g":322,"x":0.45,"y":-0.26},{"g":322,"x":0.15,"y":-0.09},{"g":322,"x":0,"y":-0.02},{"g":322,"x":-0.15,"y":-0.09},{"g":322,"x":-0.45,"y":-0.27},{"g":322,"x":-0.93,"y":-0.42},{"g":322,"x":-1.28,"y":-0.27}
],
"a":[
{"g":1,"x":0.232,"y":0},{"g":1,"x":0.25,"y":0.07},{"g":1,"x":0.32,"y":0.183},{"g":1,"x":0.47,"y":0.339},{"g":1,"x":0.62,"y":0.442},{"g":1,"x":0.775,"y":0.494},{"g":1,"x":0.924,"y":0.51},{"g":1,"x":1.06,"y":0.485},{"g":1,"x":1.17,"y":0.43},{"g":1,"x":1.255,"y":0.339},{"g":1,"x":1.33,"y":0.183},{"g":1,"x":1.356,"y":0},{"g":1,"x":1.33,"y":-0.206},{"g":1,"x":1.28,"y":-0.336},{"g":1,"x":1.18,"y":-0.44},{"g":1,"x":1.078,"y":-0.485},{"g":1,"x":0.927,"y":-0.502},{"g":1,"x":0.775,"y":-0.479},{"g":1,"x":0.573,"y":-0.388},{"g":1,"x":0.396,"y":-0.271},{"g":1,"x":0.283,"y":-0.155},{"g":1,"x":0.25,"y":-0.07}
],
"b":[
{"g":1,"x":-1.346,"y":0},{"g":1,"x":-1.308,"y":0.19},{"g":1,"x":-1.22,"y":0.345},{"g":1,"x":-1.119,"y":0.449},{"g":1,"x":-0.929,"y":0.494},{"g":1,"x":-0.689,"y":0.436},{"g":1,"x":-0.437,"y":0.293},{"g":1,"x":-0.286,"y":0.137},{"g":1,"x":-0.23,"y":0},{"g":1,"x":-0.26,"y":-0.148},{"g":1,"x":-0.36,"y":-0.29},{"g":1,"x":-0.513,"y":-0.394},{"g":1,"x":-0.714,"y":-0.485},{"g":1,"x":-0.929,"y":-0.508},{"g":1,"x":-1.119,"y":-0.459},{"g":1,"x":-1.245,"y":-0.33},{"g":1,"x":-1.32,"y":-0.174}
],
"t":[{"x":0,"y":0}]
},
"layer":[
{
"encoding":{
"x":{"field":"x","type":"quantitative","scale":{"domain":[-2,2],"nice":false,"zero":false},
 "axis":{"title":"position","values":[-2,-1.5,-1,-0.5,0,0.5,1,1.5,2],"format":"~g","labelFlush":false,"labelOverlap":false,"labelPadding":11,"titlePadding":2}},
"y":{"field":"y","type":"quantitative","scale":{"domain":[-0.8,0.8],"nice":false,"zero":false},
 "axis":{"title":"velocity","values":[-0.8,-0.6,-0.4,-0.2,0,0.2,0.4,0.6,0.8],"format":"~g","labelFlush":false,"labelOverlap":false,"labelPadding":10,"titlePadding":5}},
"detail":{"field":"g","type":"nominal"},
"order":{"value":null}
},
"layer":[
{"data":{"name":"u"},"mark":{"type":"line","interpolate":"cardinal-closed","strokeWidth":1},
 "encoding":{"color":{"datum":"Uncontrolled situation","type":"nominal","scale":{"domain":["Uncontrolled situation","Orbit A","Orbit B"],"range":["#00ffff","#000000","#ff0000"]},"legend":{"title":null}}}},
{"data":{"name":"a"},"mark":{"type":"line","interpolate":"cardinal-closed","strokeWidth":3},
 "encoding":{"color":{"datum":"Orbit A","type":"nominal","scale":{"domain":["Uncontrolled situation","Orbit A","Orbit B"],"range":["#00ffff","#000000","#ff0000"]},"legend":{"title":null}}}},
{"data":{"name":"b"},"mark":{"type":"line","interpolate":"cardinal-closed","strokeWidth":3},
 "encoding":{"color":{"datum":"Orbit B","type":"nominal","scale":{"domain":["Uncontrolled situation","Orbit A","Orbit B"],"range":["#00ffff","#000000","#ff0000"]},"legend":{"title":null}}}}
]
},
{"data":{"name":"t"},"mark":{"type":"point","opacity":0},
 "encoding":{
 "x":{"field":"x","type":"quantitative","scale":{"domain":[-2,2],"nice":false,"zero":false},
  "axis":{"orient":"top","title":null,"labels":false,"domain":false,"grid":false,"values":[-1.5,-1,-0.5,0,0.5,1,1.5],"tickSize":-5}},
 "y":{"field":"y","type":"quantitative","scale":{"domain":[-0.8,0.8],"nice":false,"zero":false},
  "axis":{"orient":"right","title":null,"labels":false,"domain":false,"grid":false,"values":[-0.6,-0.4,-0.2,0,0.2,0.4,0.6],"tickSize":-5}}
 }}
],
"resolve":{"axis":{"x":"independent","y":"independent"}},
"config":{
"font":"Liberation Sans",
"view":{"stroke":"#000","strokeWidth":1},
"axis":{"labelFont":"Liberation Sans","labelFontSize":11,"labelColor":"#000","titleFont":"Liberation Sans","titleFontSize":18,"titleFontWeight":"normal","titleColor":"#000",
 "domainColor":"#000","tickColor":"#000","tickSize":-5,
 "grid":true,"gridColor":"#000","gridOpacity":0.6,"gridDash":[1,3],"gridWidth":1},
"legend":{"orient":"top-right","offset":3,"strokeColor":"#000","fillColor":"#fff","padding":3,
 "labelFont":"Liberation Sans","labelFontSize":16,"labelColor":"#000","symbolType":"M-1.4,0H1.4","symbolSize":380,"symbolStrokeWidth":2.2,"rowPadding":0,"labelOffset":13,"symbolOffset":15}
}
}
